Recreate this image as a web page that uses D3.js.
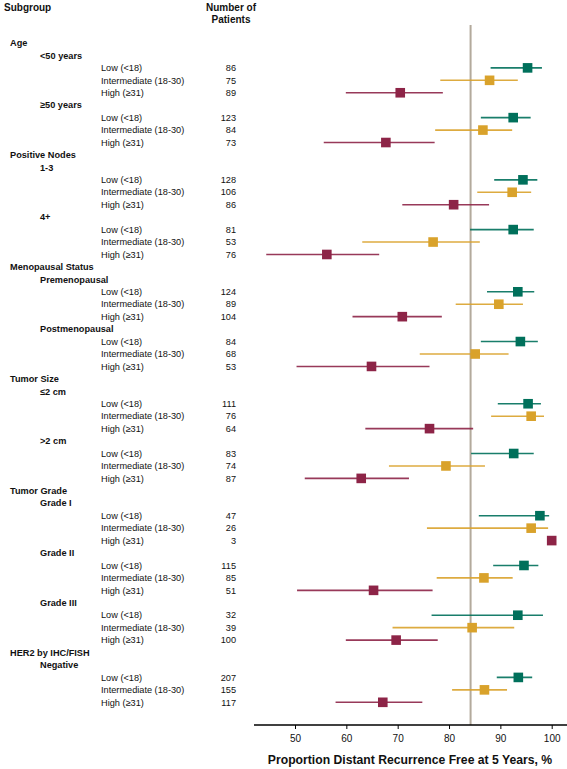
<!DOCTYPE html>
<html>
<head>
<meta charset="utf-8">
<script src="https://cdn.jsdelivr.net/npm/d3@7/dist/d3.min.js"></script>
<style>
  html, body { margin: 0; padding: 0; background: #fff; }
  svg { display: block; }
  text { font-family: "Liberation Sans", Arial, sans-serif; fill: #111; }
</style>
</head>
<body>
<svg id="chart" width="567" height="769"></svg>
<script>
// ---- data ----
const groups = ["Age", "Positive Nodes", "Menopausal Status", "Tumor Size", "Tumor Grade", "HER2 by IHC/FISH"];
const subgroups = [
  ["<50 years", "≥50 years"],
  ["1-3", "4+"],
  ["Premenopausal", "Postmenopausal"],
  ["≤2 cm", ">2 cm"],
  ["Grade I", "Grade II", "Grade III"],
  ["Negative"]
];
const riskLevels = ["Low (<18)", "Intermediate (18-30)", "High (≥31)"];
const riskColors = ["#00705b", "#d9a22b", "#8d2447"];
// per subgroup (in order), per risk level
const patients = [
  [86, 75, 89], [123, 84, 73],
  [128, 106, 86], [81, 53, 76],
  [124, 89, 104], [84, 68, 53],
  [111, 76, 64], [83, 74, 87],
  [47, 26, 3], [115, 85, 51], [32, 39, 100],
  [207, 155, 117]
];
const estimate = [
  [95.3, 87.9, 70.5], [92.5, 86.6, 67.7],
  [94.4, 92.3, 80.9], [92.5, 76.9, 56.2],
  [93.4, 89.7, 70.9], [93.9, 85.1, 64.9],
  [95.4, 96.0, 76.2], [92.6, 79.4, 62.9],
  [97.7, 96.0, 100], [94.6, 86.8, 65.3], [93.4, 84.5, 69.7],
  [93.5, 86.9, 67.1]
];
const lower = [
  [88.1, 78.3, 59.9], [86.2, 77.3, 55.6],
  [88.8, 85.5, 70.9], [84.1, 63.1, 44.4],
  [87.4, 81.3, 61.2], [86.2, 74.3, 50.3],
  [89.5, 88.2, 63.7], [84.3, 68.3, 51.9],
  [85.8, 75.7, null], [88.6, 77.6, 50.4], [76.6, 69.0, 59.9],
  [89.3, 80.6, 57.9]
];
const upper = [
  [98.1, 93.4, 78.8], [95.9, 92.3, 77.2],
  [97.2, 96.0, 87.8], [96.5, 86.0, 66.4],
  [96.6, 94.4, 78.6], [97.3, 91.6, 76.2],
  [97.9, 98.5, 84.7], [96.5, 87.0, 72.2],
  [99.5, 99.3, null], [97.4, 92.4, 76.8], [98.3, 92.7, 77.8],
  [96.2, 91.3, 74.8]
];
const xTicks = [50, 60, 70, 80, 90, 100];
const referenceValue = 84.2;
const axisTitle = "Proportion Distant Recurrence Free at 5 Years, %";

// ---- build rows ----
const rows = [];
let sgIndex = 0;
groups.forEach((g, gi) => {
  rows.push({ type: "group", label: g });
  subgroups[gi].forEach(sg => {
    rows.push({ type: "subgroup", label: sg });
    riskLevels.forEach((r, ri) => {
      rows.push({
        type: "item", label: r, risk: ri,
        n: patients[sgIndex][ri],
        est: estimate[sgIndex][ri],
        lo: lower[sgIndex][ri],
        hi: upper[sgIndex][ri]
      });
    });
    sgIndex++;
  });
});

// ---- scales ----
const svg = d3.select("#chart");
const x = d3.scaleLinear().domain([50, 100]).range([295, 551.7]);
const y = d3.scalePoint().domain(d3.range(rows.length)).range([43, 702.3]);
const axisY = 725;
const fs = 9.2;

// headers
svg.append("text").attr("x", 4).attr("y", 11).attr("font-size", 10).attr("font-weight", "bold").text("Subgroup");
svg.append("text").attr("x", 231).attr("y", 11).attr("font-size", 10).attr("font-weight", "bold").attr("text-anchor", "middle").text("Number of");
svg.append("text").attr("x", 231).attr("y", 23).attr("font-size", 10).attr("font-weight", "bold").attr("text-anchor", "middle").text("Patients");

// reference line
svg.append("line")
  .attr("x1", x(referenceValue)).attr("x2", x(referenceValue))
  .attr("y1", 25).attr("y2", axisY)
  .attr("stroke", "#b3aa9c").attr("stroke-width", 2);

// row labels
const rowG = svg.append("g");
rows.forEach((r, i) => {
  const yy = y(i);
  const xPos = r.type === "group" ? 10 : (r.type === "subgroup" ? 40 : 101);
  rowG.append("text")
    .attr("x", xPos).attr("y", yy).attr("dy", "0.35em")
    .attr("font-size", fs)
    .attr("font-weight", r.type === "item" ? "normal" : "bold")
    .text(r.label);
  if (r.type === "item") {
    rowG.append("text")
      .attr("x", 236).attr("y", yy).attr("dy", "0.35em")
      .attr("font-size", fs).attr("text-anchor", "end")
      .text(r.n);
  }
});

// CI lines and markers
const items = rows.map((r, i) => Object.assign({ i }, r)).filter(r => r.type === "item");
svg.append("g").selectAll("line")
  .data(items.filter(d => d.lo != null))
  .join("line")
  .attr("x1", d => x(d.lo)).attr("x2", d => x(d.hi))
  .attr("y1", d => y(d.i)).attr("y2", d => y(d.i))
  .attr("stroke", d => riskColors[d.risk]).attr("stroke-width", 1.6).attr("stroke-opacity", 0.9);
const ms = 9.6;
svg.append("g").selectAll("rect")
  .data(items)
  .join("rect")
  .attr("x", d => x(d.est) - ms / 2).attr("y", d => y(d.i) - ms / 2)
  .attr("width", ms).attr("height", ms)
  .attr("fill", d => riskColors[d.risk]);

// axis
svg.append("line").attr("x1", 254).attr("x2", 567).attr("y1", axisY).attr("y2", axisY)
  .attr("stroke", "#000").attr("stroke-width", 1.5);
const axis = svg.append("g").attr("transform", `translate(0,${axisY})`)
  .call(d3.axisBottom(x).tickValues(xTicks).tickSize(4).tickSizeOuter(0).tickPadding(6));
axis.select(".domain").remove();
axis.selectAll(".tick line").attr("stroke", "#000").attr("stroke-width", 1);
axis.selectAll(".tick text").attr("font-size", 10).attr("fill", "#111")
  .attr("font-family", "Liberation Sans, Arial, sans-serif");

svg.append("text").attr("x", 410).attr("y", 764).attr("text-anchor", "middle")
  .attr("font-size", 12.2).attr("font-weight", "bold").text(axisTitle);
</script>
</body>
</html>
